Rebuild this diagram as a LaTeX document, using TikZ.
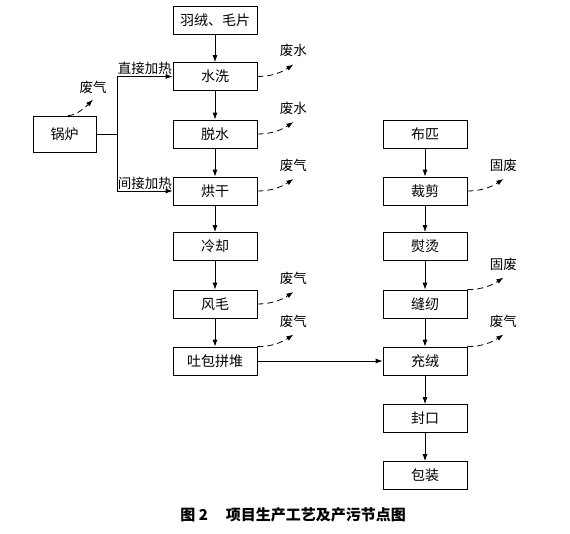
\documentclass[tikz,border=0pt]{standalone}
\usepackage{fontspec}
\setmainfont{Noto Sans CJK SC}
\usetikzlibrary{arrows.meta,positioning}

\begin{document}
\begin{tikzpicture}[
  x=1pt, y=-1pt,
  line width=0.8pt,
  proc/.style={draw, minimum width=84pt, minimum height=28pt, inner sep=0pt,
    font=\fontsize{14}{14}\selectfont},
  lbl/.style={inner sep=0pt, font=\fontsize{13.5}{13.5}\selectfont},
  flow/.style={-{Latex[length=7pt,width=5pt]}},
  waste/.style={dash pattern=on 6pt off 4pt, -{Latex[length=7pt,width=5pt]}}
]
\useasboundingbox (0,0) rectangle (570,533);

% left column
\node[proc] (down)  at (215,20)    {羽绒、毛片};
\node[proc] (wash)  at (215,76.5)  {水洗};
\node[proc] (dewat) at (215,134)   {脱水};
\node[proc] (dry)   at (215,191)   {烘干};
\node[proc] (cool)  at (215,246.5) {冷却};
\node[proc] (blow)  at (215,304)   {风毛};
\node[proc] (pile)  at (215,361)   {吐包拼堆};

% right column
\node[proc] (cloth) at (425,134)   {布匹};
\node[proc] (cut)   at (425,191)   {裁剪};
\node[proc] (iron)  at (425,246.5) {熨烫};
\node[proc] (sew)   at (425,304)   {缝纫};
\node[proc] (fill)  at (425,361)   {充绒};
\node[proc] (seal)  at (425,418.5) {封口};
\node[proc] (pack)  at (425,475.5) {包装};

% boiler
\node[proc, minimum width=63pt, minimum height=36pt] (boiler) at (64.5,134) {锅炉};
\coordinate (split) at (117,134);

% main flow
\foreach \a/\b in {down/wash, wash/dewat, dewat/dry, dry/cool, cool/blow, blow/pile,
                   cloth/cut, cut/iron, iron/sew, sew/fill, fill/seal, seal/pack}
  \draw[flow] (\a) -- (\b);
\draw[flow] (pile) -- (fill);

% heating
\draw (boiler) -- (split);
\draw[flow] (split) |- node[lbl, pos=0.75, above=1pt] {直接加热} (wash.west);
\draw[flow] (split) |- node[lbl, pos=0.75, above=1pt] {间接加热} (dry.west);

% emissions
\foreach \src/\pt/\txt in {wash/east/废水, dewat/east/废水, dry/east/废气,
                           blow/east/废气, pile/north east/废气,
                           cut/east/固废, sew/north east/固废, fill/north east/废气}
  \draw[waste] (\src.\pt) .. controls +(14,0) and +(-12,8) .. +(36,-12)
    node[lbl, above=7pt] {\txt};
\draw[waste] ([xshift=3.5pt]boiler.north) .. controls +(8,0) and +(-8,8) .. +(25,-16)
  node[lbl, above=6pt] {废气};

% caption
\node[inner sep=0pt, anchor=west, font=\fontsize{15}{15}\selectfont\bfseries] (cap)
  at (180,515) {图 2\hspace{1.2em}项目生产工艺及产污节点图};
\end{tikzpicture}
\end{document}
